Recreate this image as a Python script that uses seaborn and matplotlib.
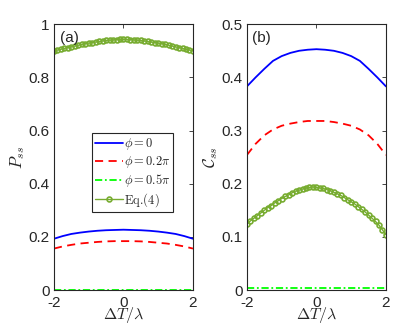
import numpy as np
import pandas as pd
import matplotlib
matplotlib.use("Agg")
import matplotlib.pyplot as plt
import seaborn as sns

# x grid for the smooth curves and for the Eq.(4) markers
dT_line = [-2.0, -1.75, -1.5, -1.25, -1.0, -0.75, -0.5, -0.25, 0.0,
           0.25, 0.5, 0.75, 1.0, 1.25, 1.5, 1.75, 2.0]
dT_eq = [round(-2.0 + 0.1 * i, 1) for i in range(41)]

# panel (a): P_ss
P_phi0 = [0.193, 0.203, 0.211, 0.216, 0.220, 0.223, 0.225, 0.226, 0.227,
          0.226, 0.225, 0.223, 0.220, 0.216, 0.211, 0.203, 0.193]
P_phi02 = [0.156, 0.164, 0.170, 0.175, 0.178, 0.181, 0.183, 0.184, 0.184,
           0.184, 0.183, 0.181, 0.178, 0.175, 0.170, 0.164, 0.156]
P_phi05 = [0.0] * 17
P_eq4 = [0.900, 0.903, 0.906, 0.909, 0.912, 0.915, 0.918, 0.921, 0.924, 0.927,
         0.929, 0.931, 0.933, 0.935, 0.937, 0.939, 0.940, 0.941, 0.942, 0.943,
         0.943,
         0.943, 0.942, 0.941, 0.940, 0.939, 0.937, 0.935, 0.933, 0.931, 0.929,
         0.927, 0.924, 0.921, 0.918, 0.915, 0.912, 0.909, 0.906, 0.903, 0.900]

# panel (b): C_ss
C_phi0 = [0.383, 0.400, 0.416, 0.431, 0.440, 0.446, 0.450, 0.452, 0.453,
          0.452, 0.450, 0.446, 0.440, 0.431, 0.416, 0.400, 0.383]
C_phi02 = [0.254, 0.275, 0.291, 0.302, 0.309, 0.313, 0.316, 0.318, 0.318,
           0.318, 0.316, 0.313, 0.309, 0.302, 0.291, 0.275, 0.254]
C_phi05 = [0.003] * 17
C_eq4 = [0.125, 0.130, 0.135, 0.140, 0.145, 0.150, 0.155, 0.159, 0.164, 0.168,
         0.172, 0.176, 0.179, 0.183, 0.186, 0.188, 0.190, 0.192, 0.193, 0.194,
         0.193, 0.192, 0.191, 0.189, 0.187, 0.184, 0.181, 0.178, 0.174, 0.170,
         0.166, 0.162, 0.157, 0.152, 0.147, 0.141, 0.135, 0.129, 0.122, 0.113,
         0.104]

labels = [r"$\phi=0$", r"$\phi=0.2\pi$", r"$\phi=0.5\pi$", r"$\mathrm{Eq.}\!(4)$"]
colors = ["#0000ff", "#ff0000", "#00ff00", "#77ac30"]

sns.set_style("white")
plt.rcParams["font.family"] = ["Liberation Sans", "DejaVu Sans"]
plt.rcParams["mathtext.fontset"] = "cm"
plt.rcParams["axes.edgecolor"] = "#262626"

fig = plt.figure(figsize=(4.15, 3.27), dpi=100)
ax1 = fig.add_axes([0.130, 0.113, 0.335, 0.813])
ax2 = fig.add_axes([0.595, 0.113, 0.335, 0.813])


def draw(ax, ys, eq):
    lines = pd.DataFrame({"x": dT_line, "a": ys[0], "b": ys[1], "c": ys[2]})
    sns.lineplot(data=lines, x="x", y="a", ax=ax, color=colors[0], lw=1.3,
                 label=labels[0])
    sns.lineplot(data=lines, x="x", y="b", ax=ax, color=colors[1], lw=1.3,
                 linestyle=(0, (4.5, 3)), label=labels[1])
    sns.lineplot(data=lines, x="x", y="c", ax=ax, color=colors[2], lw=1.3,
                 linestyle=(0, (4, 1.5, 1, 1.5)), label=labels[2])
    sns.lineplot(x=dT_eq, y=eq, ax=ax, color=colors[3], lw=1.0,
                 marker="o", markersize=3.5, markerfacecolor="none",
                 markeredgecolor=colors[3], markeredgewidth=1.2,
                 label=labels[3])
    ax.set_xlim(-2, 2)
    ax.set_xticks([-2, 0, 2])
    ax.set_xticklabels(["-2", "0", "2"])
    ax.tick_params(direction="in", length=3, width=0.6, labelsize=11,
                   top=True, right=True, colors="#262626")
    ax.tick_params(axis="x", pad=4)
    ax.tick_params(axis="y", pad=3)
    ax.set_xlabel(r"$\Delta T/\lambda$", fontsize=11.5, labelpad=-3)
    for s in ax.spines.values():
        s.set_linewidth(0.8)


draw(ax1, [P_phi0, P_phi02, P_phi05], P_eq4)
ax1.set_ylim(0, 1)
ax1.set_yticks([0, 0.2, 0.4, 0.6, 0.8, 1])
ax1.set_yticklabels(["0", "0.2", "0.4", "0.6", "0.8", "1"])
ax1.set_ylabel(r"$P_{ss}$", fontsize=12, labelpad=1)
ax1.text(0.04, 0.975, "(a)", transform=ax1.transAxes, fontsize=11,
         va="top", ha="left")
leg = ax1.legend(loc="upper left", bbox_to_anchor=(0.273, 0.59),
                 borderaxespad=0, fontsize=9, handlelength=2.2,
                 handletextpad=0.1, labelspacing=0.15, borderpad=0.25,
                 fancybox=False, framealpha=1, edgecolor="#262626")
leg.get_frame().set_linewidth(0.8)

draw(ax2, [C_phi0, C_phi02, C_phi05], C_eq4)
ax2.get_legend().remove()
ax2.set_ylim(0, 0.5)
ax2.set_yticks([0, 0.1, 0.2, 0.3, 0.4, 0.5])
ax2.set_yticklabels(["0", "0.1", "0.2", "0.3", "0.4", "0.5"])
ax2.set_ylabel(r"$\mathcal{C}_{ss}$", fontsize=12, labelpad=1)
ax2.text(0.04, 0.975, "(b)", transform=ax2.transAxes, fontsize=11,
         va="top", ha="left")

fig.savefig("out.png", dpi=100)
